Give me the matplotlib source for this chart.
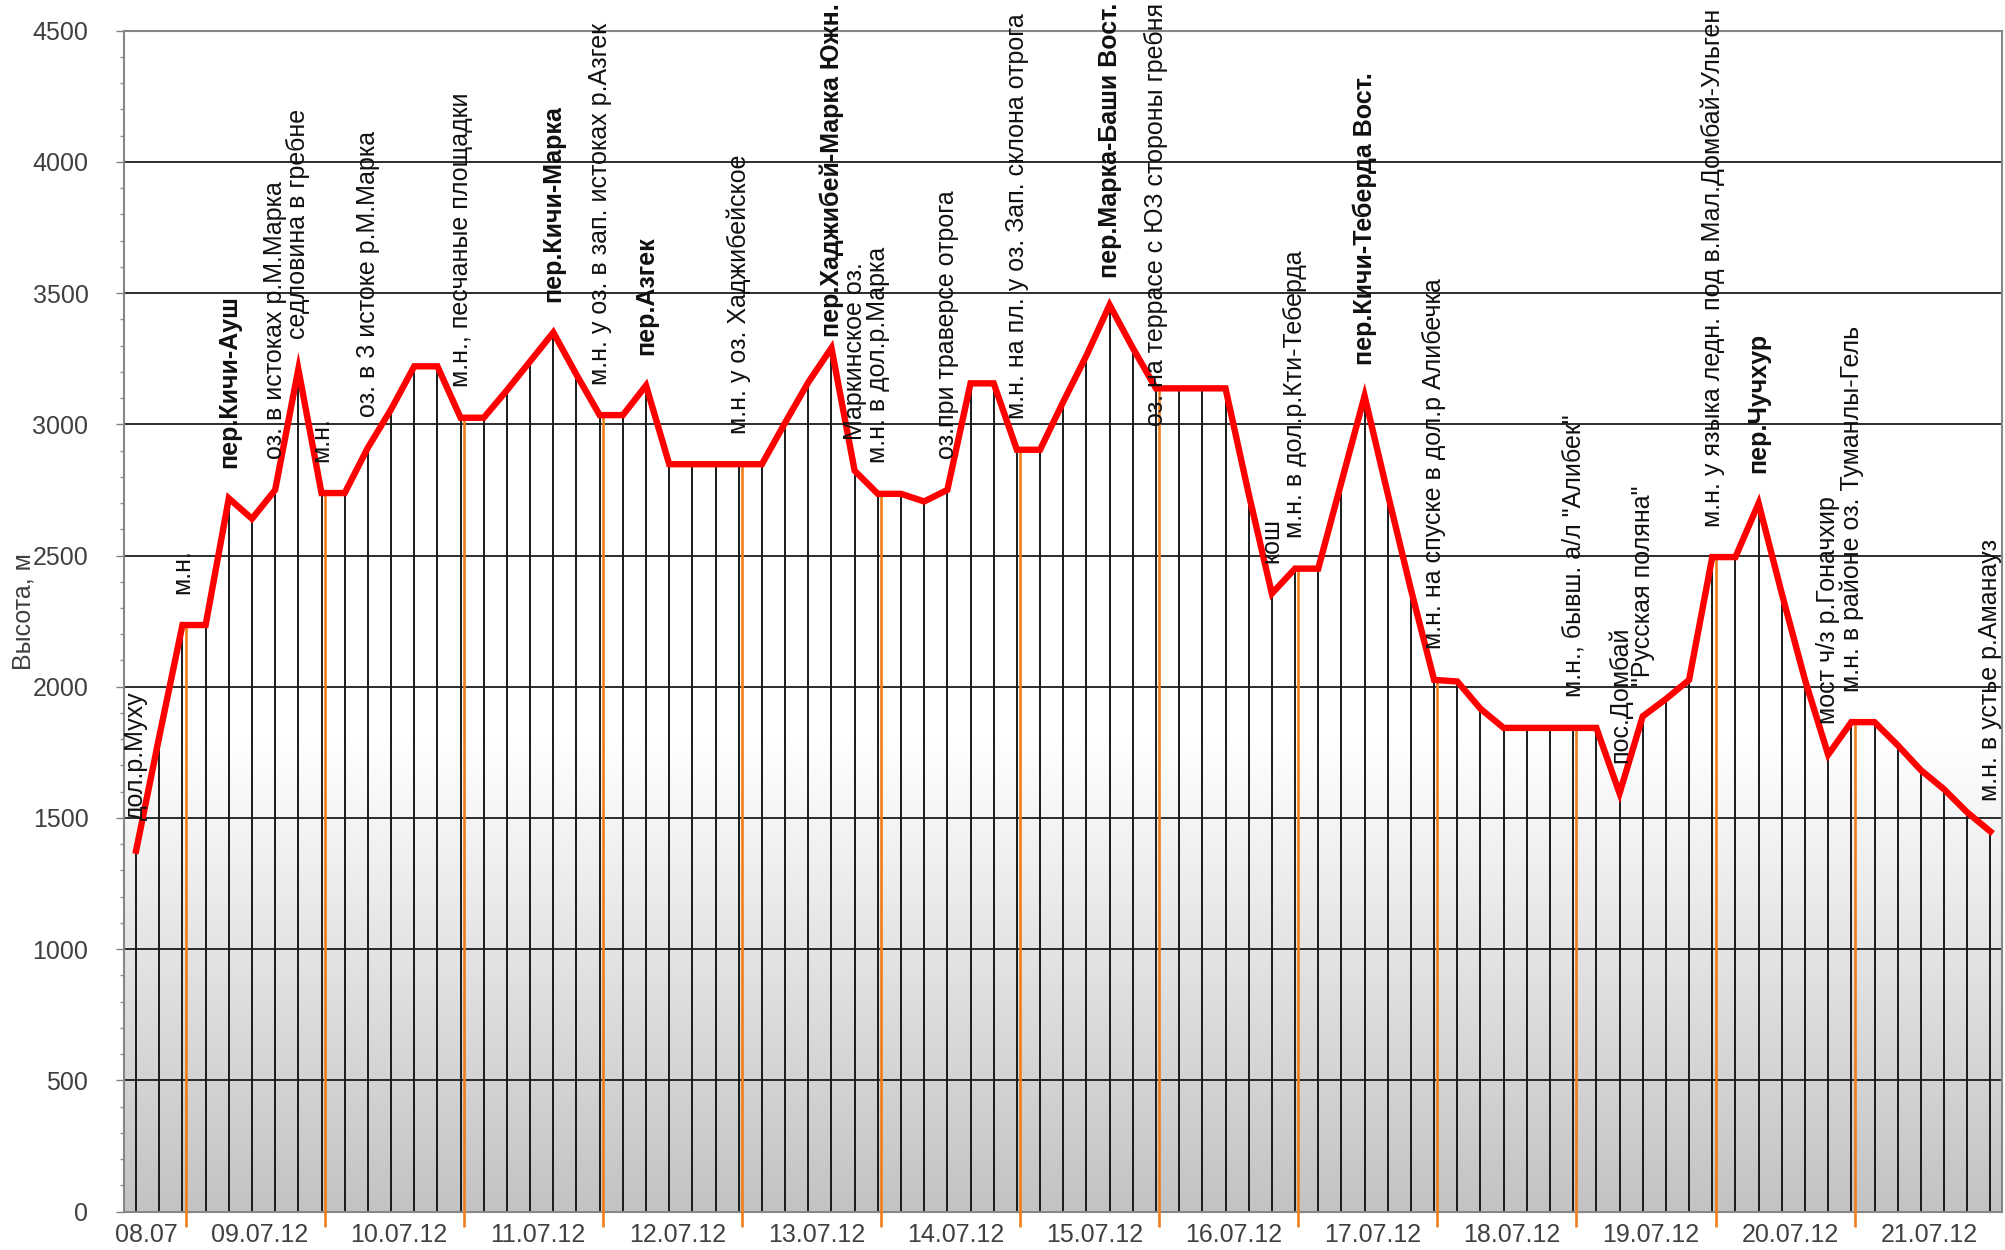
import matplotlib
matplotlib.use("Agg")
import matplotlib.pyplot as plt
import numpy as np
from matplotlib.colors import LinearSegmentedColormap
from matplotlib.ticker import MultipleLocator

plt.rcParams['font.family'] = ['Liberation Sans', 'DejaVu Sans']

# высота по точкам маршрута, м
heights = [1375, 1810, 2235, 2235, 2718, 2640, 2750, 3210, 2738, 2738,
           2911, 3057, 3221, 3221, 3025, 3025, 3130, 3240, 3350, 3189,
           3035, 3035, 3148, 2848, 2848, 2848, 2848, 2848, 3006, 3160,
           3291, 2823, 2735, 2735, 2706, 2750, 3156, 3156, 2903, 2903,
           3086, 3262, 3455, 3291, 3137, 3137, 3137, 3137, 2735, 2355,
           2450, 2450, 2779, 3108, 2735, 2370, 2026, 2020, 1916, 1843,
           1843, 1843, 1843, 1843, 1594, 1887, 1953, 2026, 2494, 2494,
           2699, 2355, 2026, 1741, 1865, 1865, 1777, 1682, 1609, 1521,
           1448]

# места ночевок (оранжевые линии)
camp_idx = [2, 8, 14, 20, 26, 32, 38, 44, 50, 56, 62, 68, 74]

days = ["08.07", "09.07.12", "10.07.12", "11.07.12", "12.07.12", "13.07.12",
        "14.07.12", "15.07.12", "16.07.12", "17.07.12", "18.07.12",
        "19.07.12", "20.07.12", "21.07.12"]

label_idx = [0, 2, 4, 6, 7, 8, 10, 14, 18, 20, 22, 26, 30, 31, 32, 35, 38,
             42, 44, 49, 50, 53, 56, 62, 64, 65, 68, 70, 73, 74, 80]
label_text = [
    "дол.р.Муху",
    "м.н.",
    "пер.Кичи-Ауш",
    "оз. в истоках р.М.Марка",
    "седловина в гребне",
    "м.н.",
    "оз. в 3 истоке р.М.Марка",
    "м.н., песчаные площадки",
    "пер.Кичи-Марка",
    "м.н. у оз. в зап. истоках р.Азгек",
    "пер.Азгек",
    "м.н. у оз. Хаджибейское",
    "пер.Хаджибей-Марка Южн.",
    "Маркинское оз.",
    "м.н. в дол.р.Марка",
    "оз.при траверсе отрога",
    "м.н. на пл. у оз. Зап. склона отрога",
    "пер.Марка-Баши Вост.",
    "оз. на террасе с ЮЗ стороны гребня",
    "кош",
    "м.н. в дол.р.Кти-Теберда",
    "пер.Кичи-Теберда Вост.",
    "м.н. на спуске в дол.р Алибечка",
    "м.н., бывш. а/л \"Алибек\"",
    "пос.Домбай",
    "\"Русская поляна\"",
    "м.н. у языка ледн. под в.Мал.Домбай-Ульген",
    "пер.Чучхур",
    "мост ч/з р.Гоначхир",
    "м.н. в районе оз. Туманлы-Гель",
    "м.н. в устье р.Аманауз",
]
label_bold = [t.startswith("пер.") for t in label_text]

fig = plt.figure(figsize=(20.06, 12.5), dpi=100)
ax = fig.add_axes([124.5 / 2006, 1 - 1211.5 / 1250, (2002 - 124.5) / 2006, (1211.5 - 30.7) / 1250])

n = len(heights)
x = np.arange(n)
xmin, xmax = -0.5, n - 0.5

# фон: белый сверху, серый внизу
cmap = LinearSegmentedColormap.from_list("bg", [(0, "#c3c3c3"), (0.4, "#ffffff"), (1, "#ffffff")])
grad = np.linspace(1, 0, 256).reshape(-1, 1)
ax.imshow(grad, extent=[xmin, xmax, 0, 4500], aspect='auto', cmap=cmap, vmin=0, vmax=1, zorder=0)

ax.set_axisbelow(True)
ax.yaxis.grid(True, color='#1c1c1c', linewidth=1.3)

ax.vlines(x, 0, heights, color='#1a1a1a', linewidth=1.4, zorder=2)
camp_h = [heights[i] for i in camp_idx]
ax.vlines(np.array(camp_idx) + 0.14, -60, camp_h, color='#f07f1a', linewidth=1.9, zorder=3, clip_on=False)
ax.plot(x, heights, color='#ff0000', linewidth=4.6, solid_joinstyle='miter', zorder=5)

ax.set_xlim(xmin, xmax)
ax.set_ylim(0, 4500)

ax.set_yticks(range(0, 4501, 500))
ax.yaxis.set_minor_locator(MultipleLocator(100))
ax.tick_params(axis='y', which='major', length=6, width=1, color='#808080', pad=20,
               labelsize=18, labelcolor='#404040')
ax.tick_params(axis='y', which='minor', length=3, width=1, color='#909090')

tick_pos = [6 * k - 0.65 for k in range(len(days))]
tick_pos[0] = 0.45
ax.set_xticks(tick_pos)
ax.set_xticklabels(days, fontfamily=['Liberation Sans Narrow', 'Liberation Sans'])
ax.tick_params(axis='x', length=0, pad=8, labelsize=18, labelcolor='#404040')

for s in ax.spines.values():
    s.set_color('#868686')
    s.set_linewidth(1.5)

fig.text(24 / 2006, 1 - 612 / 1250, "Высота, м", rotation=90, ha='center', va='center',
         fontsize=18, color='#404040')

offset = 22
anns = []
for i, t, b in zip(label_idx, label_text, label_bold):
    a = ax.annotate(t, xy=(i, heights[i]), xytext=(0, offset), textcoords='offset points',
                    rotation=90, ha='center', va='bottom', fontsize=18,
                    fontweight='bold' if b else 'normal', color='#111111',
                    annotation_clip=False, zorder=6)
    anns.append(a)

# подписи, вылезающие за верх, сдвигаем вниз
fig.canvas.draw()
r = fig.canvas.get_renderer()
H = fig.bbox.height
for a in anns:
    bb = a.get_window_extent(r)
    if bb.y1 > H - 3:
        shift = (bb.y1 - (H - 3)) * 72 / fig.dpi
        a.xyann = (0, offset - shift)

fig.savefig("out.png", dpi=100)
